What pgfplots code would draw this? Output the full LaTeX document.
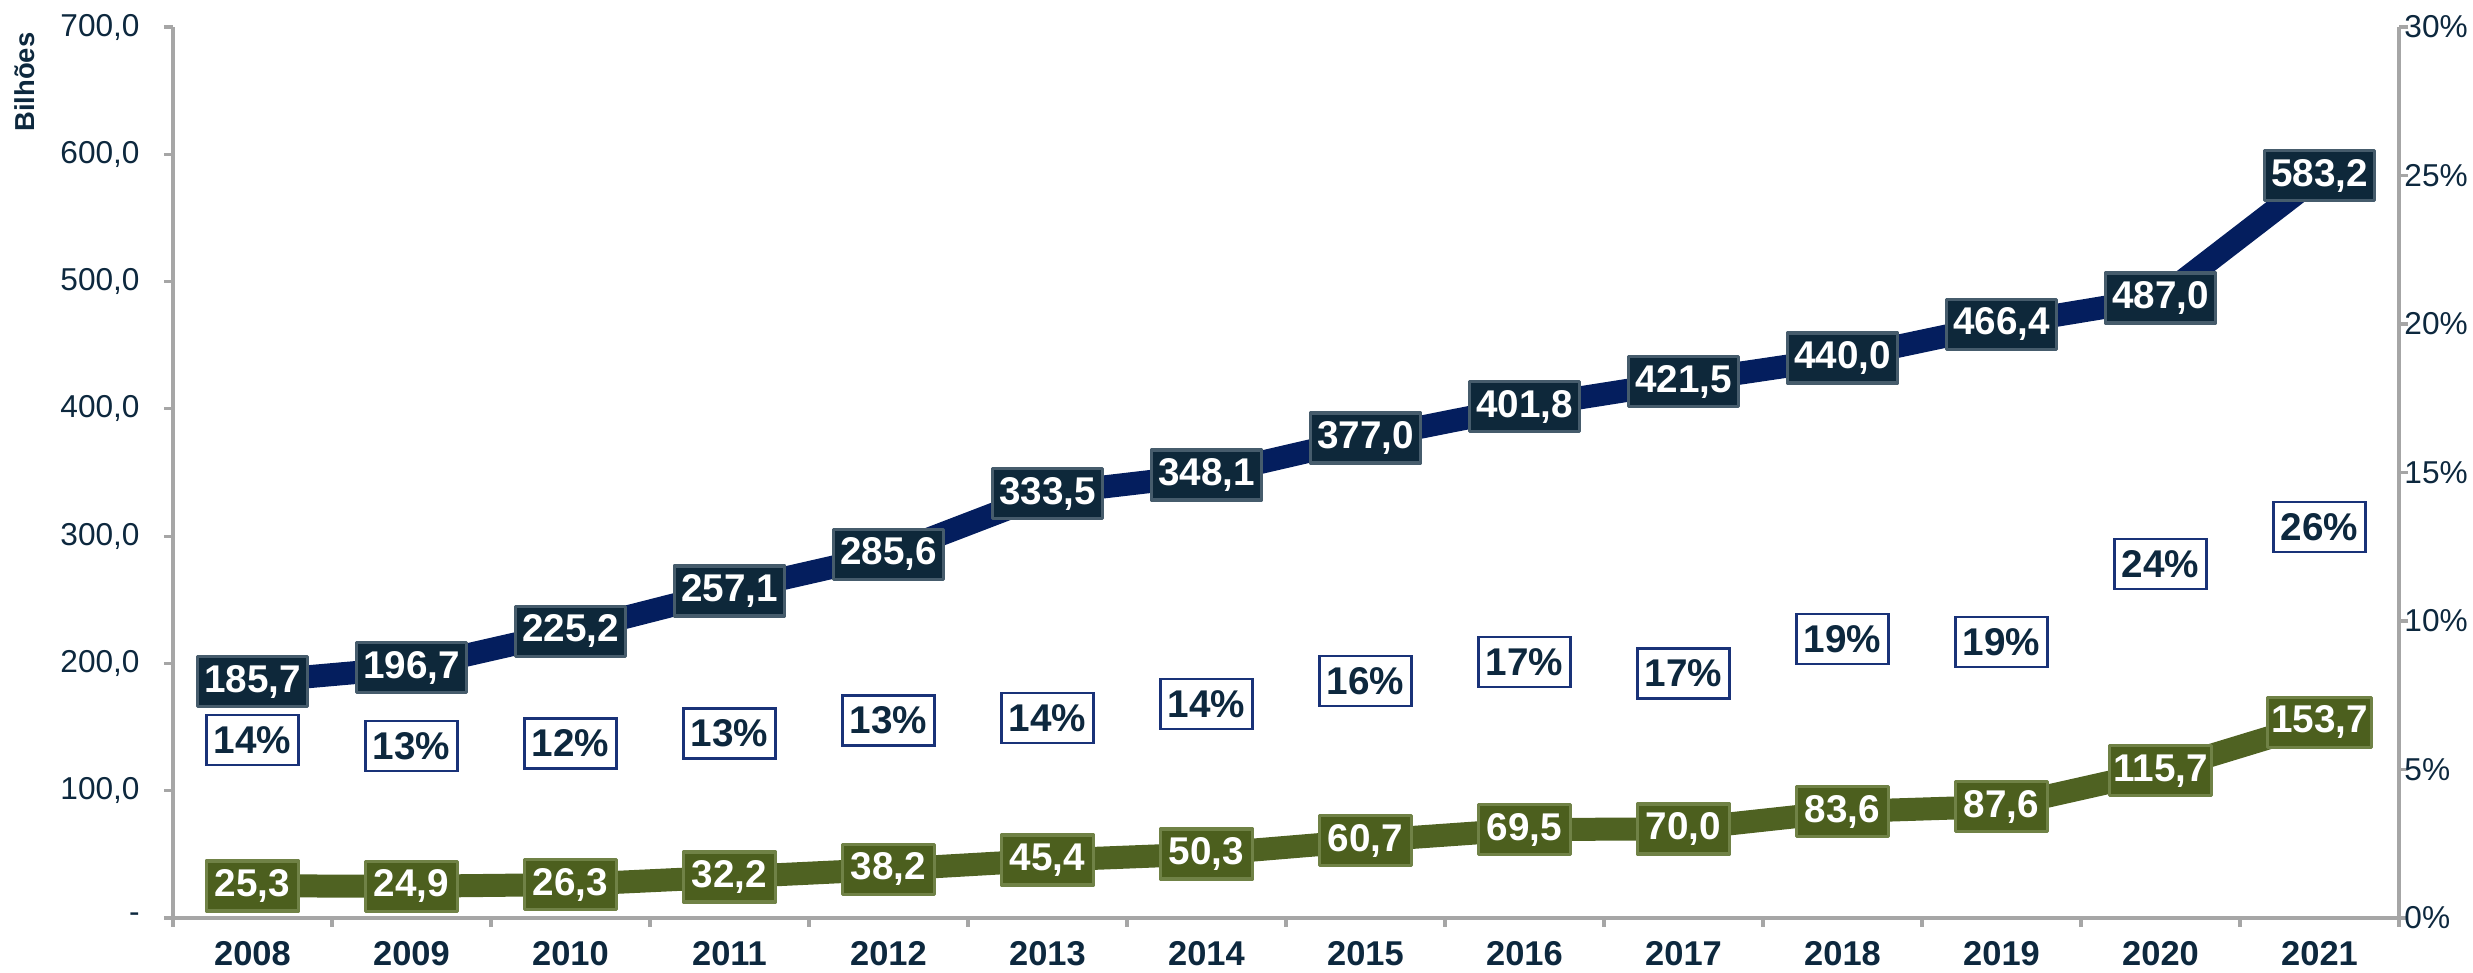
\documentclass[border=0pt]{standalone}
\usepackage{fontspec}
\setmainfont{Liberation Sans}
\usepackage{pgfplots}
\pgfplotsset{compat=1.18}
\definecolor{navyline}{RGB}{4,30,94}
\definecolor{navybox}{RGB}{14,40,58}
\definecolor{navyedge}{RGB}{70,92,108}
\definecolor{greenline}{RGB}{79,98,34}
\definecolor{greenbox}{RGB}{76,95,30}
\definecolor{greenedge}{RGB}{112,130,70}
\definecolor{txt}{RGB}{13,40,62}
\definecolor{pctborder}{RGB}{25,50,120}
\definecolor{axgrey}{RGB}{166,166,166}
\begin{document}
\begin{tikzpicture}
\begin{axis}[
  scale only axis, width=22.26cm, height=8.91cm,
  at={(0,0)}, anchor=south west,
  xmin=-0.5, xmax=13.5, ymin=0, ymax=700,
  clip=false,
  axis x line*=bottom, axis y line*=left,
  axis line style={axgrey, line width=0.9pt},
  tick align=outside,
  xtick={0,...,13},
  xticklabels={2008,2009,2010,2011,2012,2013,2014,2015,2016,2017,2018,2019,2020,2021},
  major x tick style={draw=none},
  minor xtick={-0.5,0.5,...,13.5},
  minor tick length=0.09cm,
  minor x tick style={axgrey, line width=0.9pt},
  ytick={0,100,...,700},
  yticklabels={-,{100,0},{200,0},{300,0},{400,0},{500,0},{600,0},{700,0}},
  major tick length=0.09cm,
  y tick style={axgrey, line width=0.9pt},
  xticklabel style={font=\fontsize{9.8}{11}\selectfont\bfseries, text=txt, yshift=-0.02cm},
  yticklabel style={font=\fontsize{9}{10}\selectfont, text=txt, anchor=east, xshift=-0.12cm},
  ylabel={Bilhões},
  ylabel style={at={(axis description cs:-0.0665,0.938)}, anchor=center, font=\fontsize{7.8}{9}\selectfont\bfseries, text=txt},
]
% blue series
\addplot[navyline, line width=0.23cm, line join=round, mark=none,
  nodes near coords, point meta=explicit symbolic,
  every node near coord/.append style={anchor=center, fill=navybox, draw=navyedge, line width=1pt,
    text=white, font=\fontsize{11}{12}\selectfont\bfseries, minimum width=1.1cm, minimum height=0.5cm, inner sep=1pt}]
  table[meta=label]{
x y label
0 185.7 185,7
1 196.7 196,7
2 225.2 225,2
3 257.1 257,1
4 285.6 285,6
5 333.5 333,5
6 348.1 348,1
7 377.0 377,0
8 401.8 401,8
9 421.5 421,5
10 440.0 440,0
11 466.4 466,4
12 487.0 487,0
13 583.2 583,2
};
% green series
\addplot[greenline, line width=0.23cm, line join=round, mark=none,
  nodes near coords, point meta=explicit symbolic,
  every node near coord/.append style={anchor=center, fill=greenbox, draw=greenedge, line width=1pt,
    text=white, font=\fontsize{11}{12}\selectfont\bfseries, minimum width=0.92cm, minimum height=0.5cm, inner sep=1pt}]
  table[meta=label]{
x y label
0 25.3 25,3
1 24.9 24,9
2 26.3 26,3
3 32.2 32,2
4 38.2 38,2
5 45.4 45,4
6 50.3 50,3
7 60.7 60,7
8 69.5 69,5
9 70.0 70,0
10 83.6 83,6
11 87.6 87,6
12 115.7 115,7
13 153.7 153,7
};
% percentage labels
\addplot[draw=none, mark=none,
  nodes near coords={\pgfplotspointmeta\%}, point meta=explicit symbolic,
  every node near coord/.append style={anchor=center, fill=white, draw=pctborder, line width=0.7pt,
    text=txt, font=\fontsize{11}{12}\selectfont\bfseries, minimum width=0.92cm, minimum height=0.5cm, inner sep=1pt}]
  table[meta=label]{
x y label
0 140 14
1 135 13
2 137 12
3 145 13
4 155 13
5 157 14
6 168 14
7 186 16
8 201 17
9 192 17
10 219 19
11 217 19
12 278 24
13 307 26
};
\end{axis}
\begin{axis}[
  scale only axis, width=22.26cm, height=8.91cm,
  at={(0,0)}, anchor=south west,
  xmin=-0.5, xmax=13.5, ymin=0, ymax=30,
  axis x line=none, axis y line*=right,
  axis line style={axgrey, line width=0.9pt},
  tick align=outside, major tick length=0.09cm,
  y tick style={axgrey, line width=0.9pt},
  ytick={0,5,...,30},
  yticklabels={0\%,5\%,10\%,15\%,20\%,25\%,30\%},
  yticklabel style={font=\fontsize{9}{10}\selectfont, text=txt, anchor=west, xshift=-0.16cm},
]
\addplot[draw=none] coordinates {(0,0)};
\end{axis}
\pgfresetboundingbox
\useasboundingbox (-1.73cm,-0.55cm) rectangle (23.00cm,9.18cm);
\end{tikzpicture}
\end{document}
